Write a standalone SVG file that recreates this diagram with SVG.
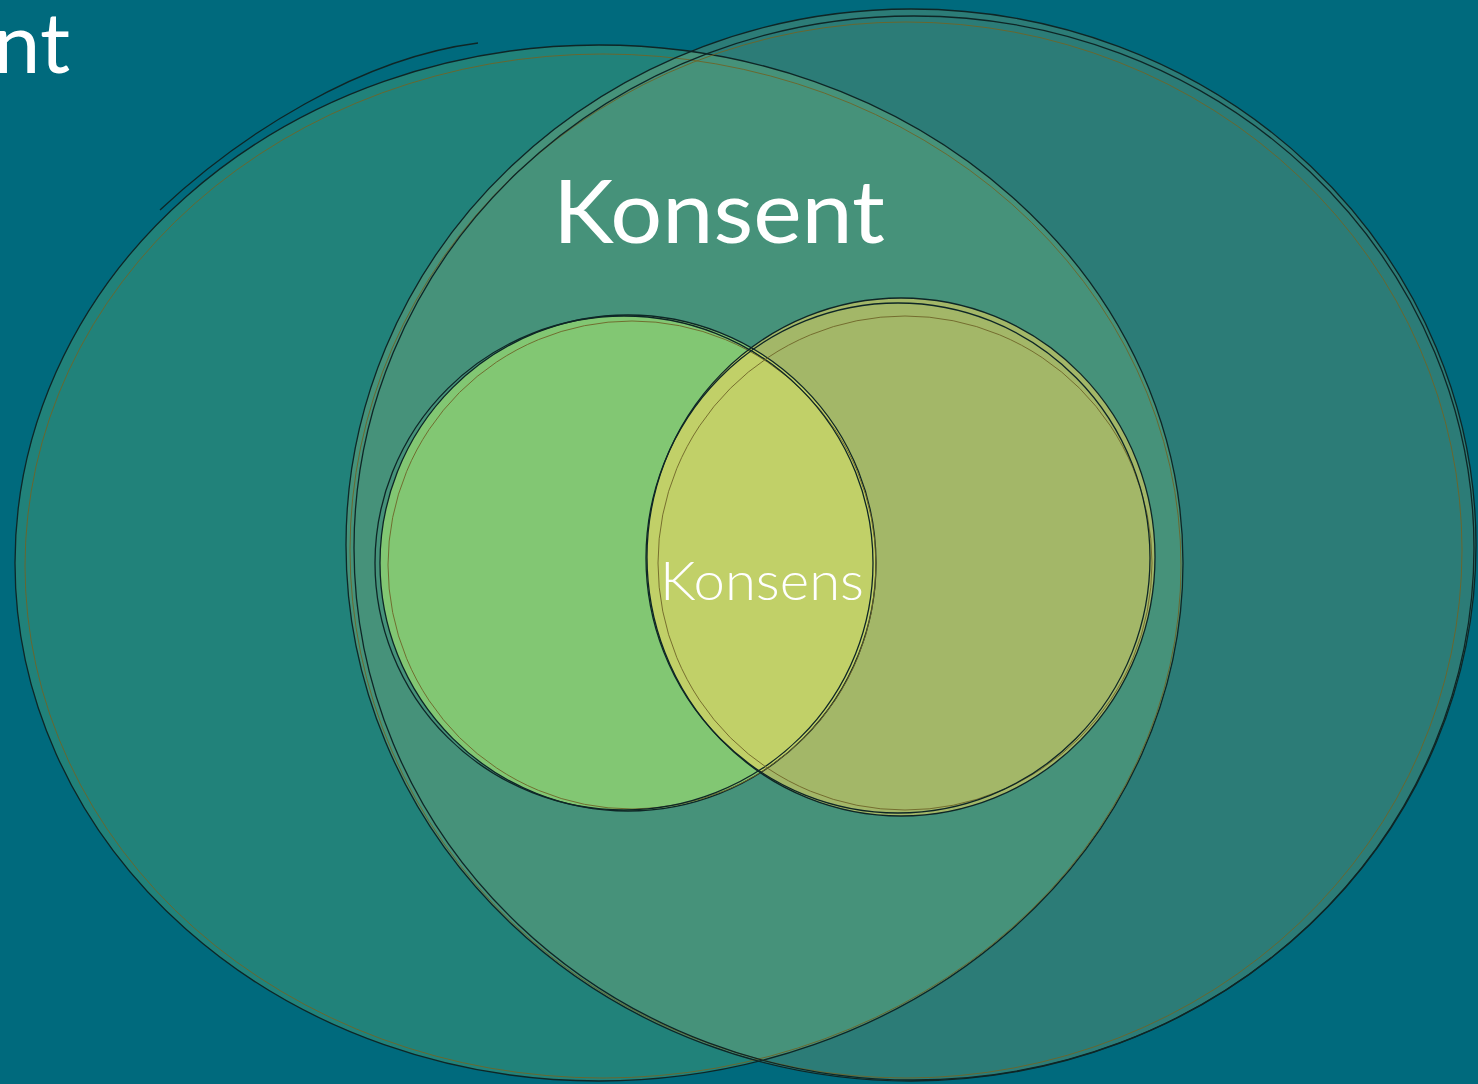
<svg xmlns="http://www.w3.org/2000/svg" width="1478" height="1084" viewBox="0 0 1478 1084">
<style>
.ol{fill:none;stroke:#0e2626;stroke-width:1.3}
.ol2{fill:none;stroke:#6e6428;stroke-width:0.9}
.t{font-family:Lato,"Noto Sans",sans-serif;fill:#ffffff;font-weight:400}
.ts{font-weight:300}
</style>
<defs>
<clipPath id="cL"><ellipse cx="599" cy="563" rx="584" ry="518"/></clipPath>
<clipPath id="cS"><circle cx="628" cy="563" r="248"/></clipPath>
</defs>
<rect width="1478" height="1084" fill="#006a7d"/>
<text class="t" x="70" y="73" font-size="84" text-anchor="end">nt</text>
<g id="left-big">
<ellipse cx="599" cy="563" rx="584" ry="518" fill="#21827a"/>
</g>
<g id="right-big">
<ellipse cx="911" cy="545" rx="565" ry="536" fill="#2c7c77"/>
<ellipse cx="911" cy="545" rx="565" ry="536" fill="#46927a" clip-path="url(#cL)"/>
</g>
<g id="outlines-big">
<ellipse class="ol" cx="599" cy="563" rx="584" ry="518"/>
<ellipse class="ol2" cx="603" cy="566" rx="578" ry="512"/>
<path class="ol" d="M160,210 C240,135 360,58 478,43"/>
<ellipse class="ol" cx="911" cy="545" rx="565" ry="536"/>
<ellipse class="ol2" cx="906" cy="550" rx="556" ry="528"/>
<ellipse class="ol" cx="914" cy="548" rx="560" ry="532"/>
</g>
<g id="left-small">
<circle cx="628" cy="563" r="248" fill="#82c773"/>
</g>
<g id="right-small">
<ellipse cx="901" cy="557" rx="254" ry="259" fill="#a3b768"/>
<ellipse cx="901" cy="557" rx="254" ry="259" fill="#c1d068" clip-path="url(#cS)"/>
</g>
<g id="outlines-small">
<circle class="ol" cx="628" cy="563" r="248"/>
<circle class="ol2" cx="632" cy="565" r="244"/>
<ellipse class="ol" cx="624" cy="563" rx="249" ry="247"/>
<ellipse class="ol" cx="901" cy="557" rx="254" ry="259"/>
<ellipse class="ol2" cx="905" cy="563" rx="247" ry="247"/>
<ellipse class="ol" cx="898" cy="558" rx="252" ry="255"/>
</g>
<g id="labels">
<text class="t" x="553" y="243" font-size="88" textLength="332" lengthAdjust="spacingAndGlyphs">Konsent</text>
<text class="t ts" x="660" y="600" font-size="53" textLength="204" lengthAdjust="spacingAndGlyphs">Konsens</text>
</g>
</svg>
